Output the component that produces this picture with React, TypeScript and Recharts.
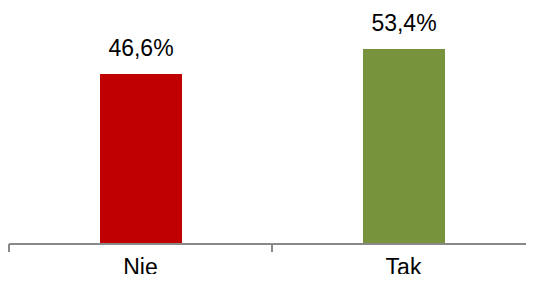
import { BarChart, Bar, XAxis, YAxis, Cell, LabelList } from "recharts";

const categories = ["Nie", "Tak"];
const shares = [46.6, 53.4];
const barColors = ["#C00000", "#77933C"];
const edgeTicks = [0, 1, 2];

const data = categories.map((name, i) => ({ name, value: shares[i], pos: i + 0.5 }));

const formatPct = (v: any) => `${String(v).replace(".", ",")}%`;

export default function App() {
  return (
    <div style={{ width: 534, height: 282, overflow: "hidden", margin: -8 }}>
      <BarChart
        width={535}
        height={282}
        data={data}
        margin={{ top: 25, right: 0, left: 9, bottom: 0 }}
        style={{ fontFamily: "'Liberation Sans', Arial, sans-serif" }}
      >
        <XAxis
          xAxisId="a"
          type="number"
          dataKey="pos"
          domain={[0, 2]}
          ticks={edgeTicks}
          interval={0}
          allowDataOverflow
          height={8}
          tickSize={8}
          tickFormatter={() => ""}
          axisLine={{ stroke: "#898989", strokeWidth: 2 }}
          tickLine={{ stroke: "#898989", strokeWidth: 2 }}
        />
        <XAxis
          xAxisId="b"
          dataKey="name"
          height={30}
          axisLine={false}
          tickLine={false}
          tickMargin={1}
          tick={{ fill: "#000", fontSize: 23 }}
        />
        <YAxis hide domain={[0, 60]} />
        <Bar
          xAxisId="b"
          dataKey="value"
          barSize={82}
          isAnimationActive={false}
        >
          {data.map((d, i) => (
            <Cell key={d.name} fill={barColors[i]} />
          ))}
          <LabelList
            dataKey="value"
            position="top"
            offset={18}
            formatter={formatPct}
            style={{ fill: "#000", fontSize: 23 }}
          />
        </Bar>
      </BarChart>
    </div>
  );
}
